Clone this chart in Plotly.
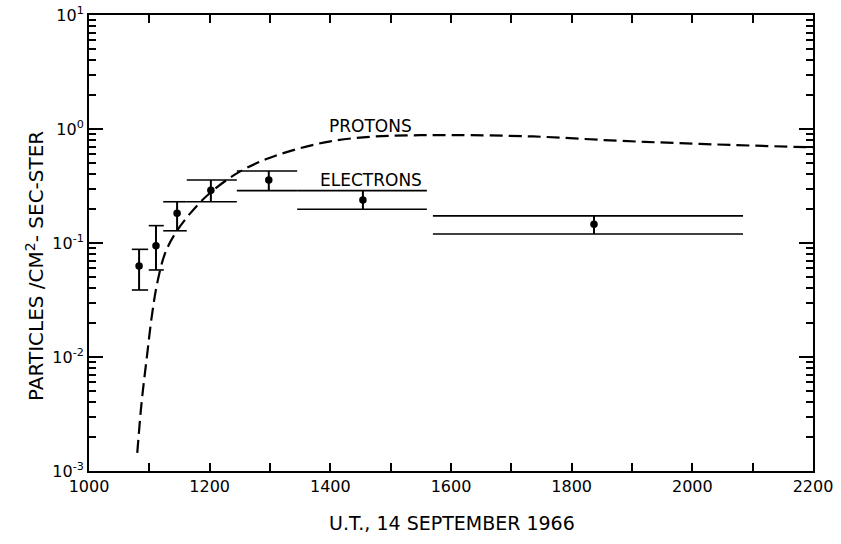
import math
import plotly.graph_objects as go

# ---- data ----
proton_t = [1080, 1087, 1096, 1104, 1113, 1126, 1142, 1167, 1200, 1245, 1294,
            1344, 1400, 1466, 1530, 1600, 1736, 1875, 2013, 2200]
proton_v = [0.00144, 0.0039, 0.0101, 0.0226, 0.0443, 0.081, 0.119, 0.180, 0.273,
            0.408, 0.545, 0.665, 0.78, 0.855, 0.878, 0.885, 0.86, 0.79, 0.74, 0.69]

el_t = [1083, 1111, 1146, 1202, 1298, 1454, 1837]
el_v = [0.063, 0.0946, 0.182, 0.29, 0.357, 0.238, 0.146]
el_lo = [0.0387, 0.058, 0.128, 0.230, 0.288, 0.198, 0.120]
el_hi = [0.088, 0.142, 0.230, 0.357, 0.428, 0.288, 0.173]
el_start = [1071, 1099, 1123, 1162, 1245, 1345, 1570]
el_end = [1098, 1124, 1162, 1245, 1345, 1560, 2084]

x_ticks = [1000, 1200, 1400, 1600, 1800, 2000, 2200]
y_ticks = [1e-3, 1e-2, 1e-1, 1e0, 1e1]
y_ticktext = ["10<sup>-3</sup>", "10<sup>-2</sup>", "10<sup>-1</sup>",
              "10<sup>0</sup>", "10<sup>1</sup>"]
y_minor = [m * 10.0 ** e for e in range(-3, 1) for m in range(2, 10)]

label_protons = (1467, 1.06)
label_electrons = (1467, 0.357)

FONT = "DejaVu Sans"
BLK = "black"

fig = go.Figure()

# proton curve
fig.add_trace(go.Scatter(x=proton_t, y=proton_v, mode="lines",
                         line=dict(color=BLK, width=2.2, dash="13px,6px",
                                   shape="spline", smoothing=1.0),
                         hoverinfo="skip"))

# electron interval bars (upper and lower horizontal lines)
hx, hy = [], []
for s, e, lo, hi in zip(el_start, el_end, el_lo, el_hi):
    hx += [s, e, None, s, e, None]
    hy += [hi, hi, None, lo, lo, None]
fig.add_trace(go.Scatter(x=hx, y=hy, mode="lines",
                         line=dict(color=BLK, width=1.6), hoverinfo="skip"))

# vertical error lines
vx, vy = [], []
for t, lo, hi in zip(el_t, el_lo, el_hi):
    vx += [t, t, None]
    vy += [lo, hi, None]
fig.add_trace(go.Scatter(x=vx, y=vy, mode="lines",
                         line=dict(color=BLK, width=2), hoverinfo="skip"))

# electron points
fig.add_trace(go.Scatter(x=el_t, y=el_v, mode="markers",
                         marker=dict(color=BLK, size=7.5), hoverinfo="skip"))

# invisible trace for mirror (top/right) axes
fig.add_trace(go.Scatter(x=[1000, 2200], y=[1e-3, 1e1], xaxis="x2", yaxis="y2",
                         mode="lines", line=dict(width=0), opacity=0,
                         hoverinfo="skip"))

fig.add_annotation(x=label_protons[0], y=math.log10(label_protons[1]),
                   text="PROTONS", showarrow=False,
                   font=dict(family=FONT, size=17, color=BLK))
fig.add_annotation(x=label_electrons[0], y=math.log10(label_electrons[1]),
                   text="ELECTRONS", showarrow=False,
                   font=dict(family=FONT, size=17, color=BLK))

fig.add_annotation(xref="paper", yref="paper", x=-0.0746, y=0.4496,
                   xanchor="center", yanchor="middle",
                   text="PARTICLES /CM<sup>2</sup>- SEC-STER", textangle=-90,
                   showarrow=False, font=dict(family=FONT, size=20, color=BLK))
fig.add_annotation(xref="paper", yref="paper", x=0.5014, y=-0.114,
                   xanchor="center", yanchor="middle",
                   text="U.T., 14 SEPTEMBER 1966", showarrow=False,
                   font=dict(family=FONT, size=19, color=BLK))

common = dict(showline=True, linecolor=BLK, linewidth=2, showgrid=False,
              zeroline=False, tickcolor=BLK, automargin=False)

fig.update_layout(
    width=841, height=544,
    margin=dict(l=89, r=28, t=15, b=73, autoexpand=False),
    paper_bgcolor="white", plot_bgcolor="white",
    showlegend=False,
    font=dict(family=FONT, size=16, color=BLK),
    xaxis=dict(range=[1000, 2200], tickvals=x_ticks, ticks="inside",
               ticklen=8, tickwidth=1.5,
               minor=dict(dtick=100, ticks="inside", ticklen=8,
                          tickwidth=1.5, tickcolor=BLK, showgrid=False),
               tickfont=dict(family=FONT, size=16), **common),
    yaxis=dict(type="log", range=[-3, 1], tickvals=y_ticks, ticktext=y_ticktext,
               ticks="inside", ticklen=14, tickwidth=1.8,
               minor=dict(tickvals=y_minor, ticks="inside", ticklen=7,
                          tickwidth=1.5, tickcolor=BLK, showgrid=False),
               tickfont=dict(family=FONT, size=16), **common),
    xaxis2=dict(range=[1000, 2200], overlaying="x", side="top", anchor="y2",
                tickvals=x_ticks, ticks="inside", ticklen=8, tickwidth=1.5,
                showticklabels=False,
                minor=dict(dtick=100, ticks="inside", ticklen=8,
                           tickwidth=1.5, tickcolor=BLK, showgrid=False),
                **common),
    yaxis2=dict(type="log", range=[-3, 1], overlaying="y", side="right",
                anchor="x2", tickvals=y_ticks, ticks="inside", ticklen=14,
                tickwidth=1.8, showticklabels=False,
                minor=dict(tickvals=y_minor, ticks="inside", ticklen=7,
                           tickwidth=1.5, tickcolor=BLK, showgrid=False),
                **common),
)

fig.write_html("out.html")
